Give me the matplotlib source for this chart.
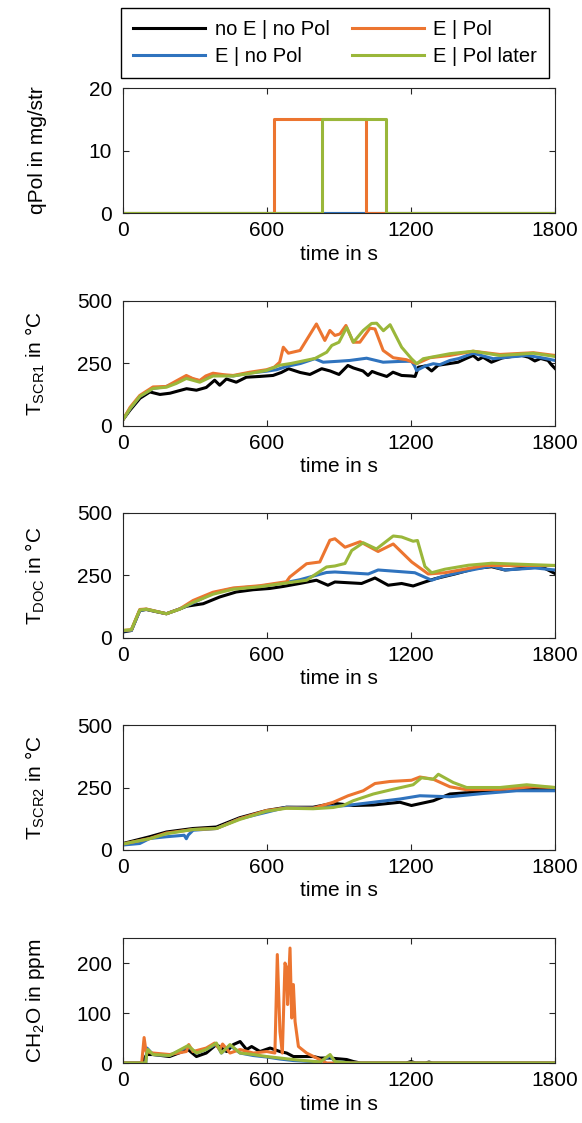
import numpy as np
import matplotlib
matplotlib.use("Agg")
import matplotlib.pyplot as plt

plt.rcParams['font.family'] = ['Liberation Sans', 'DejaVu Sans']
plt.rcParams['mathtext.fontset'] = 'custom'
plt.rcParams['mathtext.rm'] = 'Liberation Sans'
plt.rcParams['mathtext.it'] = 'Liberation Sans'

labels = ["no E | no Pol", "E | no Pol", "E | Pol", "E | Pol later"]
colors = ["#000000", "#2F73BE", "#EC7530", "#9AB73A"]

# qPol in mg/str, (time, value)
qpol_black = [(0, 0), (1800, 0)]
qpol_blue = [(0, 0), (1800, 0)]
qpol_orange = [(0, 0), (629, 0), (629, 15), (1011, 15), (1011, 0), (1800, 0)]
qpol_green = [(0, 0), (830, 0), (830, 15), (1096, 15), (1096, 0), (1800, 0)]

# T_SCR1 in degC
scr1_black = [(0, 25), (29, 63), (71, 111), (112, 136), (154, 126), (196, 131), (230, 140), (265, 149),
              (306, 143), (347, 154), (382, 183), (403, 163), (431, 188), (472, 175), (514, 195), (569, 198),
              (625, 202), (660, 214), (690, 229), (738, 214), (779, 206), (828, 229), (863, 220), (900, 206),
              (937, 242), (960, 232), (1000, 220), (1021, 202), (1038, 218), (1060, 210), (1099, 198),
              (1125, 215), (1161, 202), (1200, 200), (1217, 198), (1231, 235), (1260, 240), (1286, 220),
              (1313, 243), (1350, 248), (1396, 255), (1430, 270), (1459, 282), (1480, 265), (1500, 275),
              (1535, 255), (1580, 272), (1620, 278), (1661, 282), (1690, 275), (1716, 260), (1740, 270),
              (1771, 262), (1785, 245), (1800, 230)]
scr1_blue = [(0, 25), (30, 70), (70, 118), (125, 150), (181, 158), (222, 175), (264, 198), (300, 185),
             (320, 180), (375, 205), (459, 200), (528, 212), (598, 219), (640, 225), (681, 238), (740, 250),
             (799, 269), (834, 255), (900, 259), (945, 262), (1015, 271), (1084, 255), (1150, 258),
             (1202, 259), (1215, 240), (1223, 222), (1260, 240), (1293, 249), (1320, 245), (1362, 262),
             (1400, 270), (1459, 291), (1500, 280), (1543, 269), (1600, 275), (1682, 282), (1730, 275),
             (1765, 269), (1800, 262)]
scr1_orange = [(0, 25), (30, 75), (70, 122), (125, 156), (181, 158), (222, 180), (264, 202), (290, 190),
               (320, 182), (345, 200), (375, 211), (420, 205), (459, 202), (528, 215), (598, 225), (630, 235),
               (653, 255), (668, 315), (689, 291), (738, 302), (806, 408), (841, 342), (862, 382), (883, 362),
               (904, 368), (929, 402), (959, 335), (987, 335), (1029, 391), (1050, 388), (1084, 302),
               (1126, 273), (1181, 265), (1223, 249), (1279, 273), (1362, 282), (1459, 299), (1570, 286),
               (1710, 293), (1800, 282)]
scr1_green = [(0, 25), (30, 70), (70, 118), (125, 150), (181, 155), (222, 170), (264, 190), (320, 175),
              (375, 200), (459, 200), (528, 210), (598, 222), (653, 243), (700, 250), (760, 262), (800, 270),
              (849, 295), (870, 322), (900, 335), (932, 394), (960, 335), (1001, 382), (1036, 410),
              (1057, 411), (1085, 381), (1113, 405), (1161, 315), (1202, 269), (1224, 249), (1251, 269),
              (1362, 289), (1459, 299), (1570, 282), (1710, 291), (1800, 278)]

# T_DOC in degC
doc_black = [(0, 24), (35, 30), (70, 110), (97, 114), (140, 105), (181, 97), (236, 116), (265, 127),
             (334, 137), (403, 164), (472, 184), (542, 193), (611, 198), (667, 206), (736, 218), (806, 231),
             (854, 211), (883, 224), (994, 218), (1050, 240), (1105, 211), (1161, 218), (1209, 208),
             (1258, 224), (1300, 237), (1383, 256), (1467, 278), (1536, 285), (1592, 272), (1661, 278),
             (1744, 285), (1800, 258)]
doc_blue = [(0, 28), (35, 30), (70, 110), (97, 115), (181, 97), (236, 116), (292, 140), (375, 180),
            (459, 198), (570, 207), (681, 222), (737, 233), (848, 262), (883, 264), (1022, 256), (1063, 272),
            (1216, 261), (1286, 231), (1327, 245), (1411, 264), (1536, 288), (1592, 272), (1717, 280),
            (1800, 272)]
doc_orange = [(0, 30), (35, 33), (70, 114), (97, 116), (181, 97), (236, 116), (292, 150), (375, 183),
              (459, 200), (570, 209), (681, 225), (695, 244), (765, 297), (820, 304), (862, 391), (883, 397),
              (925, 363), (988, 385), (1063, 346), (1126, 376), (1203, 304), (1272, 256), (1341, 261),
              (1508, 290), (1800, 290)]
doc_green = [(0, 30), (35, 33), (70, 112), (97, 115), (181, 97), (236, 115), (292, 142), (375, 175),
             (459, 195), (570, 205), (681, 220), (765, 231), (848, 284), (883, 288), (925, 298), (953, 350),
             (1001, 381), (1056, 356), (1126, 408), (1161, 404), (1209, 387), (1227, 390), (1258, 286),
             (1286, 261), (1341, 275), (1439, 291), (1536, 299), (1800, 290)]

# T_SCR2 in degC
scr2_black = [(0, 26), (111, 53), (181, 72), (292, 86), (389, 92), (486, 129), (598, 158), (681, 171),
              (792, 171), (876, 187), (959, 178), (1043, 180), (1154, 191), (1202, 178), (1293, 197),
              (1362, 224), (1501, 234), (1640, 243), (1800, 241)]
scr2_blue = [(0, 20), (70, 26), (111, 46), (181, 53), (255, 59), (264, 45), (272, 60), (292, 79),
             (389, 86), (486, 125), (598, 151), (681, 171), (792, 168), (931, 178), (1043, 191), (1154, 204),
             (1237, 217), (1362, 213), (1501, 226), (1640, 237), (1800, 237)]
scr2_orange = [(0, 24), (111, 46), (181, 68), (292, 82), (389, 86), (486, 125), (598, 158), (681, 168),
               (792, 167), (876, 191), (938, 217), (1001, 237), (1050, 266), (1112, 274), (1202, 279),
               (1237, 292), (1293, 283), (1362, 253), (1432, 241), (1571, 243), (1710, 253), (1800, 250)]
scr2_green = [(0, 24), (111, 45), (181, 65), (292, 82), (389, 86), (486, 122), (598, 155), (681, 167),
              (792, 165), (876, 170), (917, 178), (959, 197), (1043, 224), (1126, 243), (1209, 261),
              (1244, 289), (1293, 283), (1314, 303), (1376, 270), (1432, 250), (1571, 250), (1682, 261),
              (1800, 250)]

# CH2O in ppm
ch2o_black = [(0, 0), (78, 0), (99, 17), (125, 17), (194, 13), (271, 27), (306, 13), (347, 20), (389, 37),
              (432, 23), (460, 37), (488, 43), (515, 27), (536, 33), (571, 23), (613, 30), (654, 23),
              (682, 20), (710, 13), (793, 13), (821, 10), (863, 10), (932, 7), (960, 3), (990, 0), (1180, 0),
              (1200, 3), (1220, 0), (1260, 0), (1275, 2), (1290, 0), (1800, 0)]
ch2o_blue = [(0, 0), (95, 0), (100, 30), (125, 17), (194, 15), (271, 33), (306, 20), (347, 27), (389, 38),
             (410, 20), (446, 35), (488, 20), (543, 15), (599, 12), (654, 8), (710, 5), (821, 2), (863, 14),
             (883, 3), (950, 0), (1800, 0)]
ch2o_orange = [(0, 0), (78, 0), (88, 51), (96, 23), (125, 20), (194, 17), (264, 23), (274, 37), (292, 23),
               (347, 30), (382, 40), (403, 27), (415, 38), (446, 20), (488, 27), (543, 20), (599, 23),
               (633, 20), (643, 217), (654, 63), (664, 20), (675, 200), (682, 190), (686, 117), (696, 230),
               (703, 90), (710, 157), (717, 83), (731, 33), (765, 20), (807, 10), (849, 0), (1800, 0)]
ch2o_green = [(0, 0), (95, 0), (99, 20), (104, 27), (125, 17), (194, 15), (271, 35), (306, 20), (347, 27),
              (389, 40), (410, 20), (446, 37), (488, 20), (543, 17), (599, 13), (654, 10), (710, 7),
              (821, 2), (863, 17), (883, 3), (950, 0), (1800, 0)]

panels = [
    ([qpol_black, qpol_blue, qpol_orange, qpol_green], "qPol in mg/str", (0, 20), [0, 10, 20]),
    ([scr1_black, scr1_blue, scr1_orange, scr1_green], "T$_{\\mathrm{SCR1}}$ in °C", (0, 500), [0, 250, 500]),
    ([doc_black, doc_blue, doc_orange, doc_green], "T$_{\\mathrm{DOC}}$ in °C", (0, 500), [0, 250, 500]),
    ([scr2_black, scr2_blue, scr2_orange, scr2_green], "T$_{\\mathrm{SCR2}}$ in °C", (0, 500), [0, 250, 500]),
    ([ch2o_black, ch2o_blue, ch2o_orange, ch2o_green], "CH$_{\\mathrm{2}}$O in ppm", (0, 250), [0, 100, 200]),
]

fs = 15
fig = plt.figure(figsize=(5.82, 11.23), dpi=100)
bottoms = [0.8103, 0.6207, 0.4319, 0.2431, 0.0534]
handles = []
for k, (series, ylab, ylim, yticks) in enumerate(panels):
    ax = fig.add_axes([0.2113, bottoms[k], 0.7423, 0.1113])
    for s, c, lab in zip(series, colors, labels):
        t, v = zip(*s)
        ln, = ax.plot(t, v, color=c, lw=2.2, label=lab)
        if k == 0:
            handles.append(ln)
    ax.set_xlim(0, 1800)
    ax.set_ylim(*ylim)
    ax.set_xticks([0, 600, 1200, 1800])
    ax.set_yticks(yticks)
    ax.tick_params(direction='in', top=True, right=True, labelsize=fs, length=4, width=0.8,
                   colors='#262626', labelcolor='black')
    ax.tick_params(axis='x', pad=6)
    ax.tick_params(axis='y', pad=8)
    for sp in ax.spines.values():
        sp.set_linewidth(0.8)
        sp.set_color('#262626')
    ax.set_xlabel("time in s", fontsize=fs, labelpad=3)
    ax.set_ylabel(ylab, fontsize=fs)
    ax.yaxis.set_label_coords(-0.177, 0.5)

fig.legend(handles, labels, ncol=2, loc='upper center', bbox_to_anchor=(0.5756, 0.993),
           fontsize=14.5, frameon=True, fancybox=False, edgecolor='black', framealpha=1,
           handlelength=3.6, columnspacing=1.1, handletextpad=0.45, borderpad=0.6, labelspacing=0.4,
           borderaxespad=0)

plt.savefig("out.png", dpi=100)
